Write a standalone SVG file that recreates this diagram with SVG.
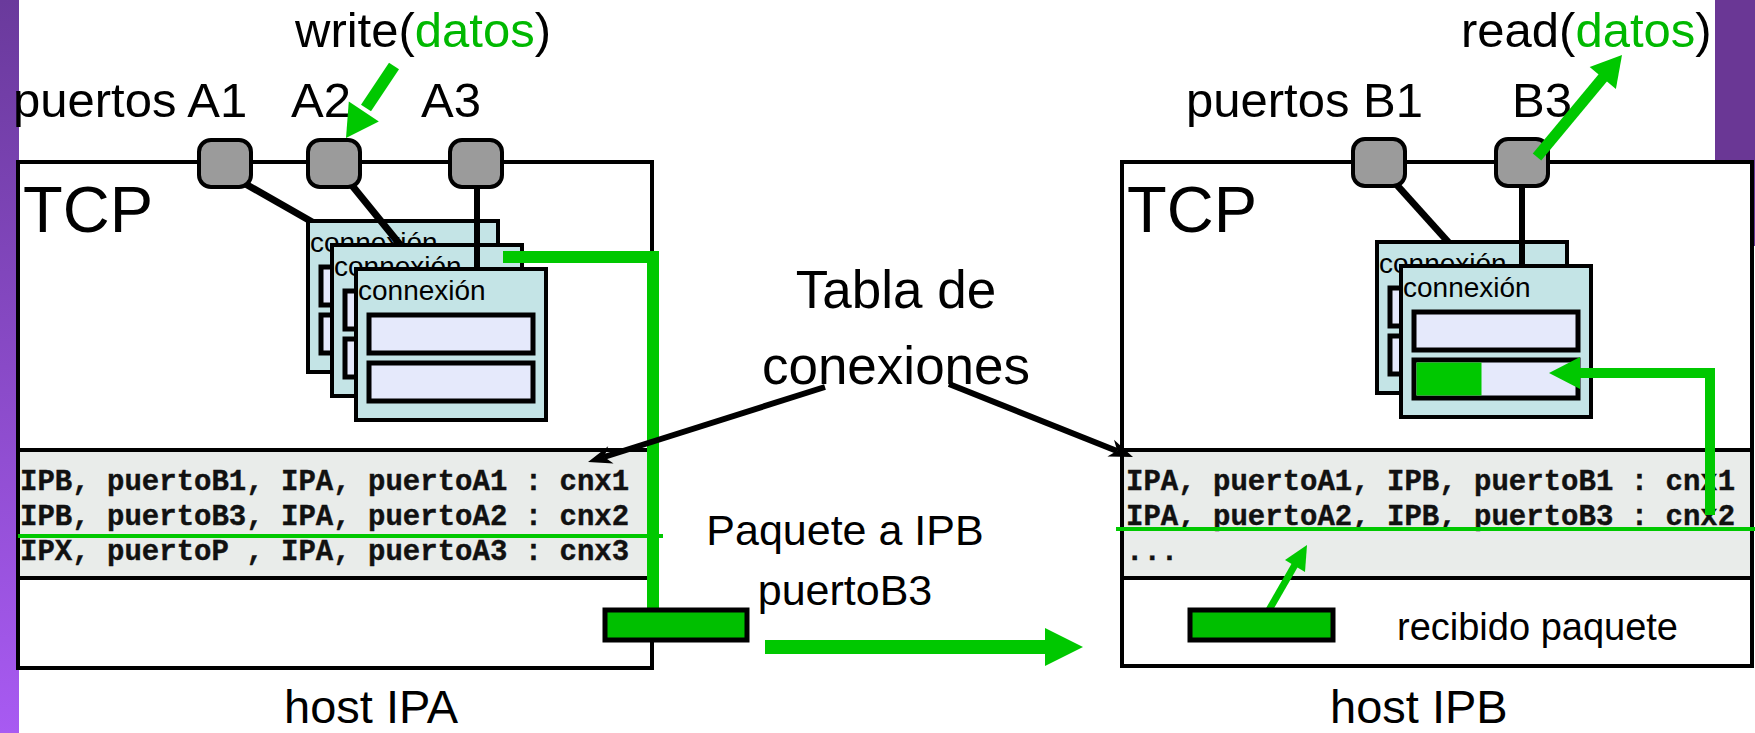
<svg xmlns="http://www.w3.org/2000/svg" width="1755" height="733" viewBox="0 0 1755 733">
<defs>
<linearGradient id="purpleL" x1="0" y1="0" x2="0" y2="1">
<stop offset="0" stop-color="#6a3a9c"/>
<stop offset="1" stop-color="#a85af2"/>
</linearGradient>
<style>
.lbl{font-family:"Liberation Sans",Arial,sans-serif;fill:#000}
.mono{font-family:"Liberation Mono","Courier New",monospace;font-weight:bold;font-size:29px;fill:#111;stroke:#111;stroke-width:0.4}
.host{fill:#fff;stroke:#000;stroke-width:4}
.table{fill:#e9ecea;stroke:#000;stroke-width:4}
.port{fill:#9b9b9b;stroke:#000;stroke-width:4}
.cbox{fill:#c4e4e6;stroke:#000;stroke-width:4}
.slot{fill:#e5e9fb;stroke:#000;stroke-width:5}
.ctext{font-family:"Liberation Sans",Arial,sans-serif;font-size:28px;fill:#000}
.wire{stroke:#000;stroke-linecap:butt;fill:none}
.g{stroke:#00c800;fill:none}
.gf{fill:#00c800}
.pkt{fill:#00bf00;stroke:#000;stroke-width:5}
.gt{fill:#00b800}
</style>
</defs>
<rect x="0" y="0" width="1755" height="733" fill="#fff"/>
<rect x="0" y="0" width="19" height="733" fill="url(#purpleL)"/>
<rect x="1715" y="0" width="40" height="246" fill="#6a3795"/>

<g id="hostA">
<rect class="host" x="18" y="162" width="634" height="506"/>
<text class="lbl" x="23" y="232" font-size="65">TCP</text>
<rect class="table" x="18" y="450" width="634" height="128"/>
<text class="mono" x="20" y="490">IPB, puertoB1, IPA, puertoA1 : cnx1</text>
<text class="mono" x="20" y="525">IPB, puertoB3, IPA, puertoA2 : cnx2</text>
<text class="mono" x="20" y="560">IPX, puertoP , IPA, puertoA3 : cnx3</text>
<text class="lbl" x="284" y="723" font-size="47">host IPA</text>
</g>

<g id="hostB">
<rect class="host" x="1122" y="162" width="630" height="504"/>
<text class="lbl" x="1127" y="232" font-size="65">TCP</text>
<rect class="table" x="1122" y="450" width="630" height="128"/>
<text class="mono" x="1126" y="490">IPA, puertoA1, IPB, puertoB1 : cnx1</text>
<text class="mono" x="1126" y="525">IPA, puertoA2, IPB, puertoB3 : cnx2</text>
<text class="mono" x="1126" y="560">...</text>
<text class="lbl" x="1330" y="723" font-size="47">host IPB</text>
<text class="lbl" x="1397" y="640" font-size="38">recibido paquete</text>
</g>

<g id="labels">
<text class="lbl" x="295" y="47" font-size="49">write(<tspan class="gt">datos</tspan>)</text>
<text class="lbl" x="13" y="117" font-size="49">puertos A1</text>
<text class="lbl" x="291" y="117" font-size="49">A2</text>
<text class="lbl" x="421" y="117" font-size="49">A3</text>
<text class="lbl" x="1461" y="47" font-size="49">read(<tspan class="gt">datos</tspan>)</text>
<text class="lbl" x="1186" y="117" font-size="49">puertos B1</text>
<text class="lbl" x="1512" y="117" font-size="49">B3</text>
<text class="lbl" x="896" y="308" font-size="53" text-anchor="middle">Tabla de</text>
<text class="lbl" x="896" y="384" font-size="53" text-anchor="middle">conexiones</text>
<text class="lbl" x="845" y="545" font-size="43" text-anchor="middle">Paquete a IPB</text>
<text class="lbl" x="845" y="605" font-size="43" text-anchor="middle">puertoB3</text>
</g>

<g id="connectors">
<line class="g" x1="18" y1="536" x2="663" y2="536" stroke-width="4"/>
<line class="g" x1="1116" y1="529" x2="1755" y2="529" stroke-width="4"/>
<line class="wire" x1="242" y1="182" x2="314" y2="223" stroke-width="7"/>
</g>

<g id="connA1">
<rect class="cbox" x="308" y="221" width="190" height="151"/>
<text class="ctext" x="310" y="252">connexión</text>
<rect class="slot" x="321" y="267" width="164" height="38"/>
<rect class="slot" x="321" y="315" width="164" height="38"/>
</g>
<g id="wireA2"><line class="wire" x1="350" y1="183" x2="402" y2="247" stroke-width="7"/></g>
<g id="connA2">
<rect class="cbox" x="332" y="245" width="190" height="151"/>
<text class="ctext" x="334" y="276">connexión</text>
<rect class="slot" x="345" y="291" width="164" height="38"/>
<rect class="slot" x="345" y="339" width="164" height="38"/>
</g>
<g id="greenPathA"><path class="g" d="M503,257 H653 V612" stroke-width="12"/></g>
<g id="wireA3"><line class="wire" x1="477" y1="186" x2="477" y2="270" stroke-width="6"/></g>
<g id="connA3">
<rect class="cbox" x="356" y="269" width="190" height="151"/>
<text class="ctext" x="358" y="300">connexión</text>
<rect class="slot" x="369" y="315" width="164" height="38"/>
<rect class="slot" x="369" y="363" width="164" height="38"/>
</g>

<g id="portsA">
<rect class="port" x="199" y="140" width="52" height="47" rx="12"/>
<rect class="port" x="308" y="140" width="52" height="47" rx="12"/>
<rect class="port" x="450" y="140" width="52" height="47" rx="12"/>
</g>

<g id="wiresB">
<line class="wire" x1="1396" y1="184" x2="1450" y2="244" stroke-width="7"/>
</g>
<g id="connB1">
<rect class="cbox" x="1377" y="242" width="190" height="151"/>
<text class="ctext" x="1379" y="273">connexión</text>
<rect class="slot" x="1390" y="288" width="164" height="38"/>
<rect class="slot" x="1390" y="336" width="164" height="38"/>
</g>
<g id="wireB3"><line class="wire" x1="1522" y1="186" x2="1522" y2="267" stroke-width="6"/></g>
<g id="connB2">
<rect class="cbox" x="1401" y="266" width="190" height="151"/>
<text class="ctext" x="1403" y="297">connexión</text>
<rect class="slot" x="1414" y="312" width="164" height="38"/>
<rect class="slot" x="1414" y="360" width="164" height="38"/>
<rect class="gf" x="1416.5" y="362.5" width="65" height="33"/>
</g>

<g id="portsB">
<rect class="port" x="1353" y="139" width="52" height="47" rx="12"/>
<rect class="port" x="1496" y="139" width="52" height="47" rx="12"/>
</g>

<g id="greenArrows">
<line class="g" x1="394" y1="66" x2="366" y2="108" stroke-width="12"/>
<polygon class="gf" points="346,138 378.8,121.4 348.8,101.4"/>
<line class="g" x1="1537" y1="157" x2="1606" y2="74" stroke-width="11"/>
<polygon class="gf" points="1622,55 1615.9,88.9 1589.7,67.1"/>
<line class="g" x1="765" y1="647" x2="1047" y2="647" stroke-width="14"/>
<polygon class="gf" points="1045,628 1083,647 1045,666"/>
<path class="g" d="M1710,515 V373 H1578" stroke-width="10"/>
<polygon class="gf" points="1549,373 1580,357 1580,389"/>
<line class="g" x1="1269" y1="610" x2="1296" y2="563" stroke-width="7"/>
<polygon class="gf" points="1307,545 1305,572 1285,560"/>
</g>

<g id="packets">
<rect class="pkt" x="605" y="610" width="142" height="30"/>
<rect class="pkt" x="1190" y="610" width="143" height="30"/>
</g>

<g id="blackArrows">
<line class="wire" x1="825" y1="387" x2="604" y2="457" stroke-width="6"/>
<polygon fill="#000" points="588,462 613.6,463.4 604.2,456.9 608.2,446.2"/>
<line class="wire" x1="949" y1="384" x2="1117" y2="451" stroke-width="6"/>
<polygon fill="#000" points="1133,457 1107.4,456.5 1117.2,450.7 1114,439.7"/>
</g>
</svg>
